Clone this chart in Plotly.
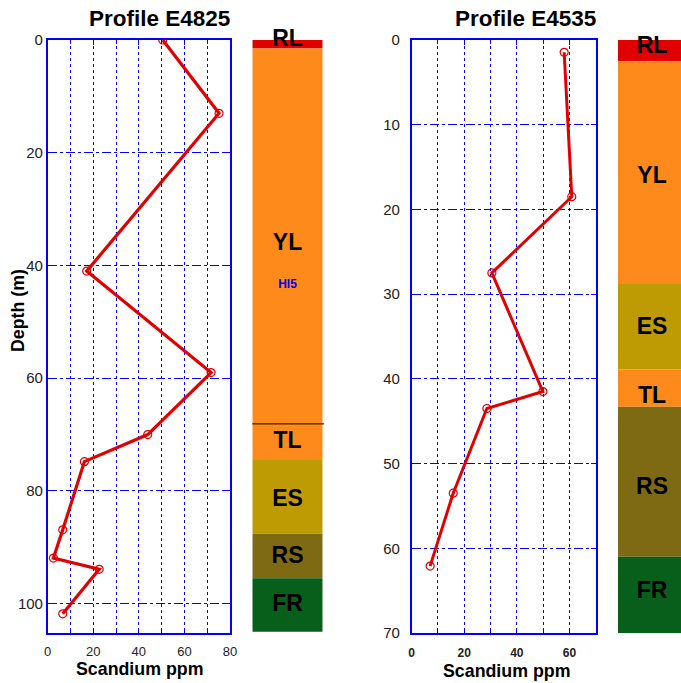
import plotly.graph_objects as go

# ---------------- data ----------------
left_depth = [0, 13, 41, 59, 70, 74.8, 86.9, 91.9, 93.9, 101.8]
left_sc = [50.5, 75.2, 17.1, 71.7, 43.9, 16.1, 6.6, 2.5, 22.6, 6.6]

right_depth = [1.45, 18.5, 27.5, 41.5, 43.5, 53.5, 62.1]
right_sc = [58.0, 60.9, 30.5, 49.9, 28.6, 15.8, 7.0]

left_layers = ["RL", "YL", "TL", "ES", "RS", "FR"]
left_tops = [0, 1.5, 68.1, 74.5, 87.6, 95.5]
left_bottoms = [1.5, 68.1, 74.5, 87.6, 95.5, 105]
left_label_depth = [0, 36.3, 71.4, 81.6, 91.8, 100.3]

right_layers = ["RL", "YL", "ES", "TL", "RS", "FR"]
right_tops = [0, 2.5, 28.8, 38.9, 43.3, 61.0]
right_bottoms = [2.5, 28.8, 38.9, 43.3, 61.0, 70]
right_label_depth = [0.9, 16.2, 34.0, 42.2, 52.9, 65.2]

layer_colors = {"RL": "#E00000", "YL": "#FF8A1C", "TL": "#FF8A1C",
                "ES": "#BF9B03", "RS": "#7F6A14", "FR": "#075F1B"}

W, H = 681, 683
FONT = "Liberation Sans, Arial, sans-serif"
BLUE = "#0000FF"
RED = "#E00000"

def px(x):
    return x / W

def py(y):
    return 1 - y / H

ydom = [py(633), py(40)]

fig = go.Figure()

# profile lines
fig.add_trace(go.Scatter(x=left_sc, y=left_depth, mode="lines+markers",
                         line=dict(color=RED, width=3.2),
                         marker=dict(symbol="circle-open", size=8, color=RED, line=dict(width=1.2)),
                         xaxis="x", yaxis="y", showlegend=False))
fig.add_trace(go.Scatter(x=right_sc, y=right_depth, mode="lines+markers",
                         line=dict(color=RED, width=3),
                         marker=dict(symbol="circle-open", size=8, color=RED, line=dict(width=1.2)),
                         xaxis="x3", yaxis="y3", showlegend=False))

# stratigraphic columns
def column(layers, tops, bottoms, xa, ya):
    fig.add_trace(go.Bar(x=[0] * len(layers),
                         y=[b - t for t, b in zip(tops, bottoms)],
                         base=tops, width=1,
                         marker=dict(color=[layer_colors[l] for l in layers], line=dict(width=0)),
                         xaxis=xa, yaxis=ya, showlegend=False, hoverinfo="skip"))

column(left_layers, left_tops, left_bottoms, "x2", "y2")
column(right_layers, right_tops, right_bottoms, "x4", "y4")

fig.add_trace(go.Scatter(x=[0] * len(left_layers), y=left_label_depth, text=left_layers,
                         mode="text", textfont=dict(family=FONT, size=23, color="black", weight="bold"),
                         cliponaxis=False, xaxis="x2", yaxis="y2", showlegend=False))
fig.add_trace(go.Scatter(x=[0], y=[43.5], text=["HI5"], mode="text",
                         textfont=dict(family=FONT, size=12, color="#0000EE", weight="bold"),
                         xaxis="x2", yaxis="y2", showlegend=False))
fig.add_trace(go.Scatter(x=[0.04] * len(right_layers), y=right_label_depth, text=right_layers,
                         mode="text", textfont=dict(family=FONT, size=23, color="black", weight="bold"),
                         cliponaxis=False, xaxis="x4", yaxis="y4", showlegend=False))

fig.add_shape(type="line", xref="x2 domain", yref="y2", x0=0, x1=1.02, y0=68.1, y1=68.1,
              line=dict(color="black", width=1))

def axis(**kw):
    d = dict(showline=True, linecolor=BLUE, linewidth=1.5, mirror="ticks",
             ticks="inside", ticklen=5, tickcolor=BLUE, tickwidth=1,
             showgrid=True, gridcolor=BLUE, gridwidth=1,
             zeroline=False, automargin=False)
    d.update(kw)
    return d

minor = dict(dtick=10, showgrid=True, gridcolor=BLUE, gridwidth=1, griddash="dot",
             ticks="inside", ticklen=4, tickcolor=BLUE)

fig.update_layout(
    template="none",
    width=W, height=H, margin=dict(l=0, r=0, t=0, b=0, autoexpand=False),
    paper_bgcolor="white", plot_bgcolor="white", barmode="overlay", showlegend=False,
    xaxis=axis(domain=[px(47.7), px(230)], range=[0, 80], dtick=20, tick0=0, griddash="dot",
               tickfont=dict(family=FONT, size=13, color="#222"),
               minor=minor, anchor="y", ticklabelstandoff=6),
    yaxis=axis(domain=ydom, range=[105.2, 0], dtick=20, tick0=0, griddash="dashdot",
               tickfont=dict(family=FONT, size=15, color="#222"),
               anchor="x", ticklabelstandoff=0),
    xaxis2=dict(domain=[px(252.3), px(322.7)], range=[-0.5, 0.5], visible=False, anchor="y2",
                automargin=False),
    yaxis2=dict(domain=ydom, range=[105.2, 0], visible=False, anchor="x2", automargin=False),
    xaxis3=axis(domain=[px(411.7), px(595.7)], range=[0, 70], dtick=20, tick0=0, griddash="dot",
                tickfont=dict(family=FONT, size=12, color="#222", weight="bold"),
                minor=minor, anchor="y3", ticklabelstandoff=8),
    yaxis3=axis(domain=ydom, range=[70, 0], dtick=10, tick0=0, griddash="dashdot",
                tickfont=dict(family=FONT, size=15, color="#222"),
                anchor="x3", ticklabelstandoff=7),
    xaxis4=dict(domain=[px(618), 1.0], range=[-0.5, 0.5], visible=False, anchor="y4",
                automargin=False),
    yaxis4=dict(domain=ydom, range=[70, 0], visible=False, anchor="x4", automargin=False),
)

def ann(text, x, y, size, angle=0):
    fig.add_annotation(text=text, x=px(x), y=py(y), xref="paper", yref="paper",
                       xanchor="center", yanchor="middle", showarrow=False, textangle=angle,
                       font=dict(family=FONT, size=size, color="black", weight="bold"))

ann("Profile E4825", 159, 18, 22.5)
ann("Profile E4535", 525, 18, 22.5)
ann("Scandium ppm", 139, 669, 17.8)
ann("Scandium ppm", 506.5, 671, 17.8)
ann("Depth (m)", 18, 311, 17.8, angle=-90)

fig.write_html("out.html", config={"displayModeBar": False},
               post_script="document.body.style.margin='0px';document.body.style.padding='0px';")
